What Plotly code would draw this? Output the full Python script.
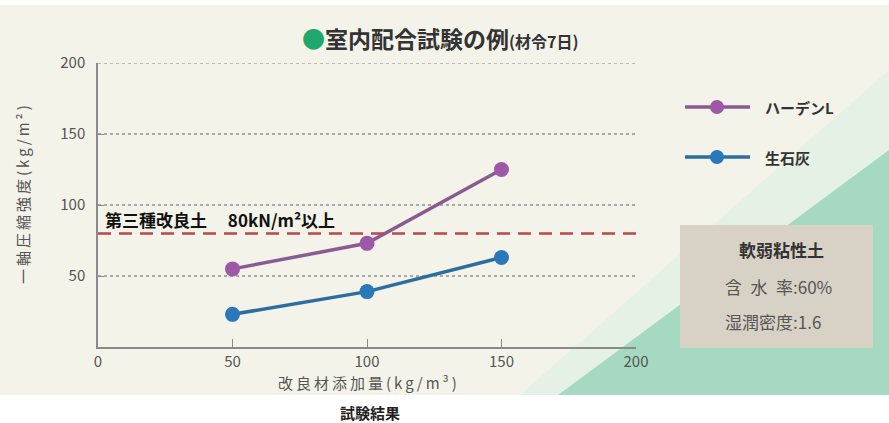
import plotly.graph_objects as go

# ---- data ----
additive = [50, 100, 150]
harden_l = [55, 73, 125]
quicklime = [23, 39, 63]
threshold = 80
series_names = ["ハーデンL", "生石灰"]
x_ticks = [0, 50, 100, 150, 200]
y_ticks = [50, 100, 150, 200]

W, H = 889, 423
L, R, T, B = 98, 253, 63, 76
PW, PH = W - L - R, H - T - B


def px(x):
    return (x - L) / PW


def py(y):
    return 1 - (y - T) / PH


def spaced(s, sep="\u2009"):
    return sep.join(list(s))


PURPLE_LINE, PURPLE_MK = "#8a5a92", "#9d58a8"
BLUE_LINE, BLUE_MK = "#2c6e9e", "#2978b9"
FONT = "Noto Sans CJK JP"

fig = go.Figure()

fig.add_trace(go.Scatter(x=additive, y=harden_l, mode="lines+markers", name=series_names[0],
                         line=dict(color=PURPLE_LINE, width=3.5),
                         marker=dict(color=PURPLE_MK, size=15), showlegend=False))
fig.add_trace(go.Scatter(x=additive, y=quicklime, mode="lines+markers", name=series_names[1],
                         line=dict(color=BLUE_LINE, width=3.5),
                         marker=dict(color=BLUE_MK, size=15), showlegend=False))

shapes = []
# background panel
shapes.append(dict(type="rect", xref="paper", yref="paper", x0=px(0), x1=px(W), y0=py(395), y1=py(5),
                   fillcolor="#f3f3e9", line=dict(width=0), layer="below"))
shapes.append(dict(type="path", xref="paper", yref="paper",
                   path=f"M {px(520)} {py(395)} L {px(889)} {py(70)} L {px(889)} {py(395)} Z",
                   fillcolor="#e6f1e5", line=dict(width=0), layer="below"))
shapes.append(dict(type="path", xref="paper", yref="paper",
                   path=f"M {px(558)} {py(395)} L {px(889)} {py(150)} L {px(889)} {py(395)} Z",
                   fillcolor="#a6d9c1", line=dict(width=0), layer="below"))
# info box
shapes.append(dict(type="rect", xref="paper", yref="paper", x0=px(680), x1=px(873), y0=py(348), y1=py(225),
                   fillcolor="#d8d2c6", line=dict(width=0), layer="below"))
# top gridline (at range edge)
shapes.append(dict(type="line", xref="x", yref="y", x0=0, x1=200, y0=200, y1=200,
                   line=dict(color="#a8a8a8", width=1.5, dash="dot"), layer="below"))
# threshold line
shapes.append(dict(type="line", xref="x", yref="y", x0=0, x1=200, y0=threshold, y1=threshold,
                   line=dict(color="#b9474b", width=2.5, dash="13px,8px")))
# legend samples
for yy, lc, mc in [(107, PURPLE_LINE, PURPLE_MK), (157, BLUE_LINE, BLUE_MK)]:
    shapes.append(dict(type="line", xref="paper", yref="paper", x0=px(685), x1=px(750),
                       y0=py(yy), y1=py(yy), line=dict(color=lc, width=3.5)))
    shapes.append(dict(type="circle", xref="paper", yref="paper", x0=px(710), x1=px(724),
                       y0=py(yy + 7), y1=py(yy - 7), fillcolor=mc, line=dict(width=0)))

annotations = []
annotations.append(dict(xref="paper", yref="paper", x=px(440), y=py(38), xanchor="center", yanchor="middle",
                        showarrow=False,
                        text="<span style='color:#1ea86e'>●</span><b>室内配合試験の例</b><span style='font-size:16px'><b>(材令7日)</b></span>",
                        font=dict(size=23, color="#333333", family=FONT)))
annotations.append(dict(xref="paper", yref="paper", x=px(103), y=py(219), xanchor="left", yanchor="middle",
                        showarrow=False, text="<b>第三種改良土\u2003 80kN/m²以上</b>",
                        font=dict(size=17, color="#111111", family=FONT)))
for yy, name in [(107, series_names[0]), (157, series_names[1])]:
    annotations.append(dict(xref="paper", yref="paper", x=px(763), y=py(yy), xanchor="left", yanchor="middle",
                            showarrow=False, text=f"<b>{name}</b>",
                            font=dict(size=15, color="#333333", family=FONT)))
annotations.append(dict(xref="paper", yref="paper", x=px(781), y=py(249), xanchor="center", yanchor="middle",
                        showarrow=False, text="<b>軟弱粘性土</b>",
                        font=dict(size=17, color="#333333", family=FONT)))
annotations.append(dict(xref="paper", yref="paper", x=px(723), y=py(286), xanchor="left", yanchor="middle",
                        showarrow=False, text="含\u2002水\u2002率:60%",
                        font=dict(size=17, color="#555555", family=FONT)))
annotations.append(dict(xref="paper", yref="paper", x=px(723), y=py(321), xanchor="left", yanchor="middle",
                        showarrow=False, text="湿潤密度:1.6",
                        font=dict(size=17, color="#555555", family=FONT)))
annotations.append(dict(xref="paper", yref="paper", x=px(367), y=py(382), xanchor="center", yanchor="middle",
                        showarrow=False, text=spaced("改良材添加量(kg/m³)"),
                        font=dict(size=15, color="#555555", family=FONT)))
annotations.append(dict(xref="paper", yref="paper", x=px(22), y=py(195), xanchor="center", yanchor="middle",
                        showarrow=False, text=spaced("一軸圧縮強度(kg/m²)"), textangle=-90,
                        font=dict(size=15, color="#555555", family=FONT)))
annotations.append(dict(xref="paper", yref="paper", x=px(370), y=py(412), xanchor="center", yanchor="middle",
                        showarrow=False, text="<b>試験結果</b>",
                        font=dict(size=15, color="#222222", family=FONT)))

fig.update_layout(
    width=W, height=H, margin=dict(l=L, r=R, t=T, b=B, pad=0),
    paper_bgcolor="white", plot_bgcolor="rgba(0,0,0,0)",
    shapes=shapes, annotations=annotations, showlegend=False,
    font=dict(family=FONT, color="#555555"),
)
fig.update_xaxes(range=[0, 200], tickvals=x_ticks, showgrid=False, zeroline=False,
                 showline=True, linecolor="#8a8a8a", linewidth=1.5,
                 ticks="inside", ticklen=8, tickcolor="#8a8a8a", tickwidth=1.2,
                 tickfont=dict(size=15, color="#555555"), fixedrange=True)
fig.update_yaxes(range=[0, 200], tickvals=y_ticks, showgrid=True, gridcolor="#a8a8a8",
                 griddash="dot", gridwidth=1.5, zeroline=False,
                 showline=True, linecolor="#8a8a8a", linewidth=1.5,
                 ticks="inside", ticklen=6, tickcolor="#8a8a8a",
                 tickfont=dict(size=15, color="#555555"), ticklabelstandoff=8, fixedrange=True)

fig.write_html("out.html")
